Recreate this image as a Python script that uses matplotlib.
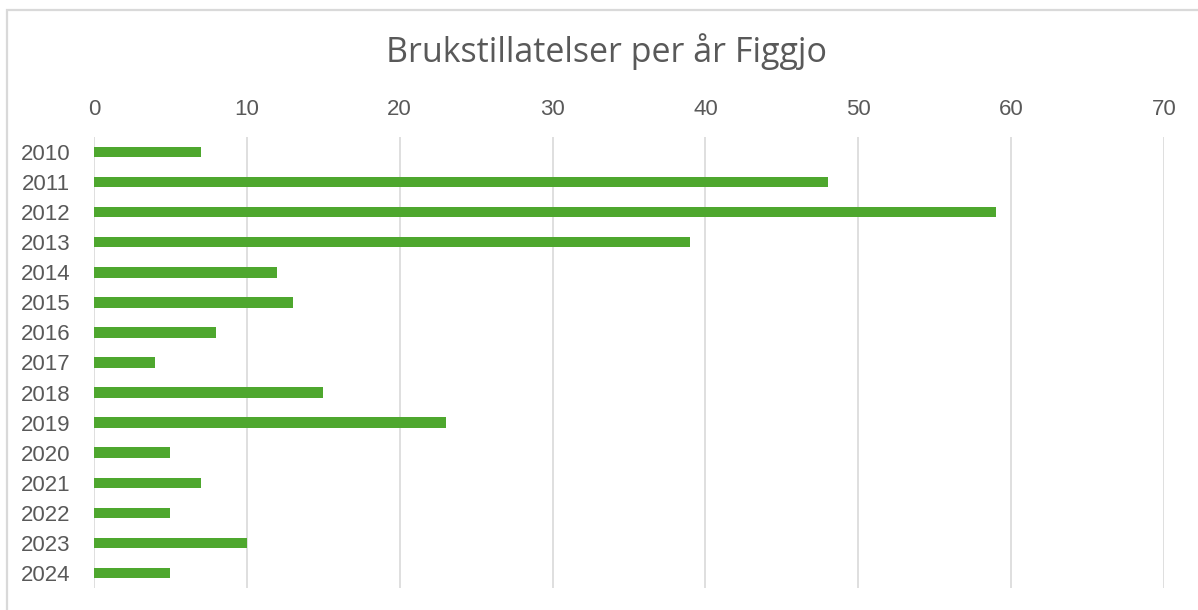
import matplotlib
matplotlib.use("Agg")
import matplotlib.pyplot as plt
from matplotlib.patches import Rectangle

years = ["2010", "2011", "2012", "2013", "2014", "2015", "2016", "2017",
         "2018", "2019", "2020", "2021", "2022", "2023", "2024"]
counts = [7, 48, 59, 39, 12, 13, 8, 4, 15, 23, 5, 7, 5, 10, 5]
xticks = [0, 10, 20, 30, 40, 50, 60, 70]
title = "Brukstillatelser per år Figgjo"

W, H = 1198, 610
fig = plt.figure(figsize=(W / 100, H / 100), dpi=100)
fig.patch.set_facecolor("white")
# outer chart border (only top and left edges visible)
top = 1 - 10 / H
fig.patches.append(Rectangle((7 / W, -0.05), 1.1, top + 0.05, transform=fig.transFigure,
                             fill=False, edgecolor="#D9D9D9", linewidth=1.6))

ax = fig.add_axes([94 / W, 1 - 588 / H, (1164 - 94) / W, (588 - 137) / H])
txt = "#595959"
font = ["Liberation Sans", "DejaVu Sans"]

pos = list(range(len(years)))
ax.barh(pos, counts, height=0.35, color="#4EA72E", zorder=3)
ax.set_ylim(len(years) - 0.5, -0.5)
ax.set_xlim(0, 70)
ax.set_xticks(xticks)
ax.set_xticklabels([str(t) for t in xticks], fontsize=16, color=txt, family=font)
ax.xaxis.tick_top()
ax.set_yticks(pos)
ax.set_yticklabels(years, fontsize=16, color=txt, family=font)
ax.tick_params(axis="x", length=0, pad=12)
ax.tick_params(axis="y", length=0, pad=17)
ax.grid(axis="x", color="#D9D9D9", linewidth=1.2, zorder=0)
for s in ax.spines.values():
    s.set_visible(False)

fig.text(606 / W, 1 - 52 / H, title, ha="center", va="center", fontsize=24.5,
         color=txt, family=["Open Sans", "DejaVu Sans"])

fig.savefig("out.png", dpi=100, facecolor="white")
